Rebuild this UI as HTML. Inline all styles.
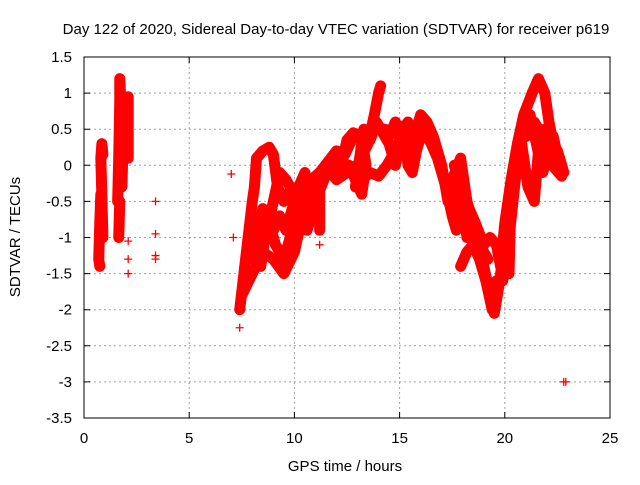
<!DOCTYPE html>
<html><head><meta charset="utf-8"><style>
body{margin:0;background:#fff;}
svg text{font-family:"Liberation Sans",sans-serif;font-size:15px;fill:#000;}
</style></head><body>
<svg id="chart" width="640" height="480" xmlns="http://www.w3.org/2000/svg">
<text x="336" y="34" text-anchor="middle">Day 122 of 2020, Sidereal Day-to-day VTEC variation (SDTVAR) for receiver p619</text>
<g id="grid"></g>
<g id="axes"></g>
<g id="marks"></g>
<rect x="84" y="57" width="526" height="361" fill="none" stroke="#000" stroke-width="1"/>
<text x="345" y="471" text-anchor="middle">GPS time / hours</text>
<text transform="translate(20,237) rotate(-90)" text-anchor="middle">SDTVAR / TECUs</text>
</svg>
<script>
const xTicks=[0,5,10,15,20,25];
const yTicks=[1.5,1,0.5,0,-0.5,-1,-1.5,-2,-2.5,-3,-3.5];
const yTickLabels=["1.5","1","0.5","0","-0.5","-1","-1.5","-2","-2.5","-3","-3.5"];
const trackA=[[0.75,-1.4],[0.7,-1.3],[0.75,-0.8],[0.8,-0.4],[0.85,-0.6],[0.9,-1.0],[0.8,0.1],[0.85,0.3],[0.9,0.15]];
const trackB=[[1.65,-1.0],[1.7,-0.5],[1.6,-0.5],[1.65,0.1],[1.7,0.9],[1.7,1.2],[1.8,0.6],[1.75,0],[1.8,-0.3],[1.85,0.2],[2.1,0.95],[2.1,0.1]];
const isolated=[[2.1,-1.3],[2.1,-1.5],[2.1,-1.05],[3.4,-0.5],[3.4,-0.95],[3.4,-1.25],[3.4,-1.3],[7.0,-0.12],[7.1,-1.0],[7.4,-2.25],[22.8,-3.0],[22.9,-3.0],[11.2,-1.1],[11.2,-0.9]];
const trackC1=[[7.4,-2.0],[7.6,-1.5],[7.8,-1.0],[8.0,-0.5],[8.1,-0.3],[8.2,0.1],[8.5,0.2],[8.8,0.25],[9.0,0.15],[9.2,-0.3],[9.5,-0.5],[9.8,-0.35],[10.0,-0.6]];
const trackC3=[[7.5,-1.8],[8.0,-1.5],[8.5,-1.2],[9.0,-1.3],[9.5,-1.5],[10.0,-1.2],[10.3,-0.8],[10.6,-0.5],[11.0,-0.3],[11.5,0],[12.0,-0.2],[12.5,-0.1],[13.0,0],[13.5,0.3],[13.8,0.7],[14.0,1.0],[14.1,1.1]];
const trackC4=[[8.3,-0.8],[8.7,-0.9],[9.0,-0.5],[9.3,-0.1],[9.6,-0.2],[10.0,-0.4],[10.3,-0.7],[10.6,-0.9],[11.0,-0.5],[11.4,-0.2],[11.8,0.1],[12.2,-0.05],[12.5,0.35],[12.8,0.45],[13.2,0.4],[13.4,0.0],[13.2,-0.4],[12.9,-0.2],[12.6,0.0]];
const trackC5=[[7.8,-1.3],[8.2,-1.0],[8.5,-0.6],[8.8,-0.8],[9.1,-1.1],[9.5,-1.3],[9.8,-1.0],[10.1,-0.8],[10.4,-0.4],[10.8,-0.2],[11.2,-0.1],[11.6,0.05],[12.0,0.2],[12.4,0.15],[12.8,0.4]];
const trackC6=[[12.9,-0.3],[13.3,0.5],[13.6,0.35],[13.9,0.6],[14.2,0.45],[14.5,0.3],[14.8,0.0],[15.0,0.3],[15.2,0.55],[15.5,0.3],[15.8,0.5],[16.0,0.7],[16.3,0.6],[16.6,0.4],[17.0,0.0],[17.3,-0.5],[17.6,-0.6],[17.8,-0.3],[18.0,-0.4],[18.3,-0.6],[18.6,-0.8],[19.0,-1.1],[19.3,-1.0],[19.6,-1.1],[19.8,-1.4],[20.0,-0.8],[20.3,-0.2],[20.6,0.3],[20.9,0.7],[21.3,1.0],[21.6,1.2],[21.9,1.0],[22.1,0.6],[22.3,0.3],[22.6,0.1],[22.8,-0.1]];
const trackC7=[[13.2,-0.2],[13.6,-0.1],[14.0,-0.15],[14.4,0.0],[14.8,0.2],[15.2,0.5],[15.4,0.0],[15.6,-0.1],[15.8,0.2],[16.1,0.5],[16.5,0.3],[16.8,0.1],[17.2,-0.3],[17.5,-0.7],[17.7,-0.9],[17.5,-0.2],[17.9,0.1],[18.2,-0.5],[18.6,-0.9],[19.0,-1.4],[19.3,-1.8],[19.5,-2.05],[19.7,-1.7],[20.0,-1.1],[20.3,-0.5],[20.6,0.0],[20.9,0.5],[21.2,0.7],[21.5,0.3],[21.8,-0.1],[22.1,0.2],[22.4,-0.05],[22.7,-0.15]];
const trackC8=[[17.9,-1.4],[18.2,-1.2],[18.5,-1.1],[18.8,-1.3],[19.1,-1.6],[19.4,-2.0],[19.6,-1.6],[19.9,-1.6],[20.2,-1.0],[20.5,-0.2],[20.8,0.3],[21.1,-0.3],[21.4,-0.5],[21.6,0.2],[21.9,0.5],[22.2,0.0],[22.5,0.2],[22.8,-0.1]];
const trackC9=[[14.3,0.5],[14.5,0.4],[14.8,0.6],[15.1,0.3],[15.4,0.6],[15.7,0.35]];
const trackC10=[[17.6,0.0],[17.8,-0.2],[18.0,-0.5],[18.2,-1.0]];
const trackC11=[[20.3,-0.4],[20.25,-0.9],[20.2,-1.5]];
const trackC12=[[11.2,-0.2],[11.2,-0.6],[11.2,-0.9]];
const trackC13=[[8.0,-1.2],[8.4,-1.4],[8.6,-1.0],[9.0,-0.9],[9.3,-0.7],[9.6,-0.9],[9.9,-0.6],[10.2,-0.3],[10.5,-0.1]];
const trackC14=[[17.6,-0.4],[18.0,-0.7],[18.4,-0.9],[18.8,-1.1],[19.2,-1.3]];
const trackC15=[[21.0,0.4],[21.4,0.6],[21.8,0.4],[22.0,0.0],[22.3,0.4],[22.6,0.0]];
const tracks=[trackA,trackB,trackC1,trackC3,trackC4,trackC5,trackC6,trackC7,trackC8,trackC9,trackC10,trackC11,trackC12,trackC13,trackC14,trackC15];

const X0=84,X1=610,Y0=57,Y1=418;
const xs=t=>X0+(t-0)/25*(X1-X0);
const ys=v=>Y0+(1.5-v)/5*(Y1-Y0);
const NS="http://www.w3.org/2000/svg";
function mk(tag,attrs,parent){const e=document.createElementNS(NS,tag);for(const k in attrs)e.setAttribute(k,attrs[k]);parent.appendChild(e);return e;}
const grid=document.getElementById('grid'),axes=document.getElementById('axes'),marks=document.getElementById('marks');
xTicks.forEach((t,i)=>{
  const x=xs(t);
  if(i>0&&i<xTicks.length-1){const g=mk('line',{x1:x,x2:x,y1:Y0,y2:Y1,stroke:'#a0a0a0','stroke-dasharray':'2,3'},grid);
  
  }
  const tk=mk('path',{d:`M${x},${Y1}v-6M${x},${Y0}v6`,stroke:'#000'},axes);
  
  
  const lb=mk('text',{x:x,y:Y1+25,'text-anchor':'middle'},axes);lb.textContent=t;
  
  
});
yTicks.forEach((v,i)=>{
  const y=ys(v);
  if(i>0&&i<yTicks.length-1){const g=mk('line',{x1:X0,x2:X1,y1:y,y2:y,stroke:'#a0a0a0','stroke-dasharray':'2,3'},grid);
  
  }
  const tk=mk('path',{d:`M${X0},${y}h6M${X1},${y}h-6`,stroke:'#000'},axes);
  
  
  const lb=mk('text',{x:X0-12,y:y+5,'text-anchor':'end'},axes);lb.textContent=yTickLabels[i];
  
  
});
tracks.forEach(tr=>{
  const p=mk('polyline',{points:tr.map(d=>xs(d[0])+','+ys(d[1])).join(' '),fill:'none',stroke:'#f00','stroke-width':11,'stroke-linejoin':'round','stroke-linecap':'round'},marks);
  
  
});
tracks.concat([isolated]).forEach(tr=>tr.forEach(d=>{
  const x=xs(d[0]),y=ys(d[1]);
  const m=mk('path',{d:`M${x-4},${y}h8M${x},${y-4}v8`,stroke:'#f00','stroke-width':1.3},marks);
  
  
}));
</script>
</body></html>
